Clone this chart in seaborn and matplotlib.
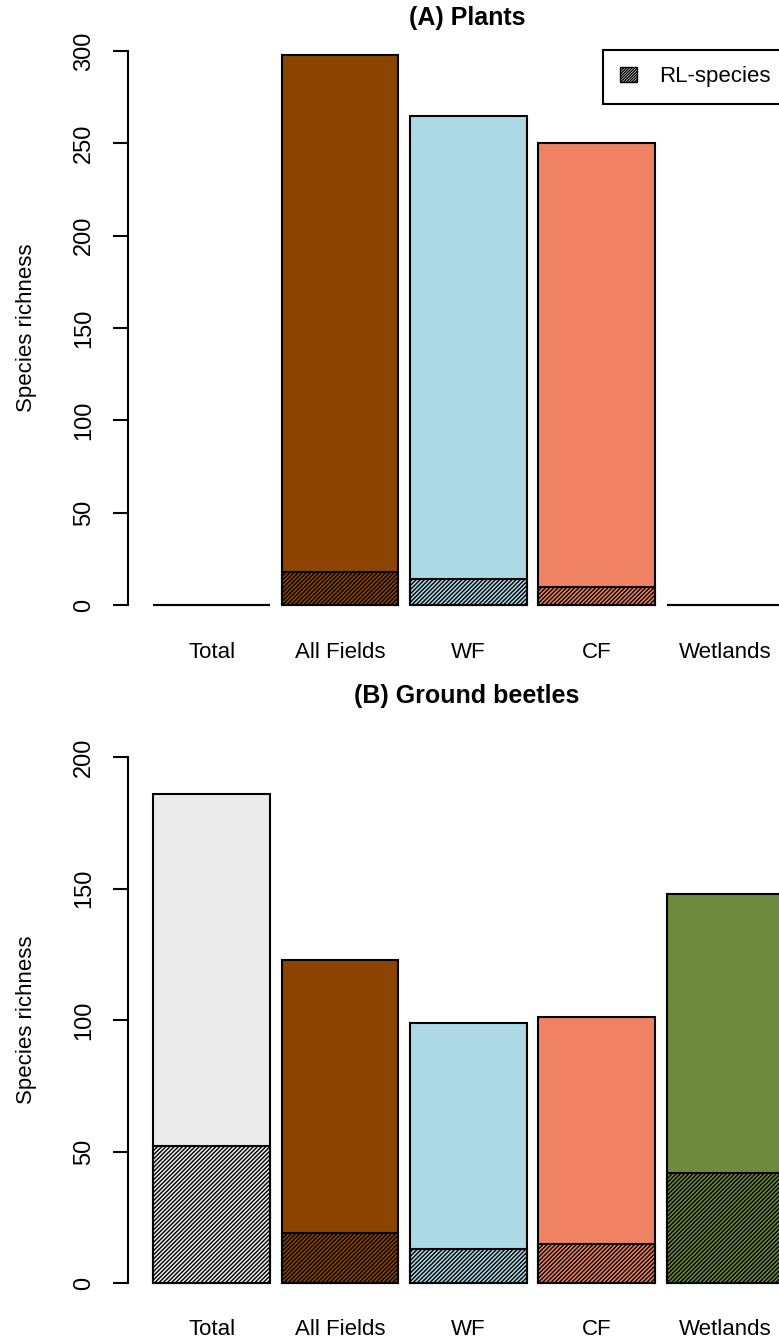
# Species richness per habitat (plants / ground beetles), RL-species hatched
import numpy as np
import pandas as pd
import matplotlib
matplotlib.use("Agg")
import matplotlib.pyplot as plt
import matplotlib.patches as mpatches
import seaborn as sns

# --------------------  DATA  --------------------
categories     = ["Total", "All Fields", "WF", "CF", "Wetlands"]
bar_colors     = ["#EBEBEB", "#8B4500", "#ADD8E6", "#EE8262", "#6E8B3D"]

plants_total   = [0, 298, 265, 250, 0]
plants_rl      = [0, 18, 14, 10, 0]

beetles_total  = [186, 123, 99, 101, 148]
beetles_rl     = [52, 19, 13, 15, 42]

# --------------------  STYLE  --------------------
sns.set_style("white")
plt.rcParams["font.family"] = ["Liberation Sans", "DejaVu Sans"]
plt.rcParams["hatch.linewidth"] = 1.0
for key in ["text.color", "axes.labelcolor", "xtick.color", "ytick.color"]:
    plt.rcParams[key] = "black"

W, H = 779, 1343
BAR_W = 1 / 1.1          # R barplot with space = 0.1
PX_PER_BAR = 128.3       # pixel distance between bar centres
X0_PX = 211.7            # pixel centre of first bar
AX_LEFT_PX = 128
AX_RIGHT_PX = 828
palette = dict(zip(categories, bar_colors))

fig = plt.figure(figsize=(W / 100, H / 100), dpi=100)


def make_axes(ymax_px, zero_px):
    # axes box with R's 4 % padding around the 0..ymax range
    pad = 0.04 * (zero_px - ymax_px)
    top_px, bottom_px = ymax_px - pad, zero_px + pad
    return fig.add_axes([AX_LEFT_PX / W, 1 - bottom_px / H,
                         (AX_RIGHT_PX - AX_LEFT_PX) / W, (bottom_px - top_px) / H])


def draw_panel(ax, totals, rl, ymax, step, title, title_y_px):
    df = pd.DataFrame({"habitat": categories, "total": totals, "rl": rl})
    sns.barplot(data=df, x="habitat", y="total", hue="habitat", palette=palette,
                width=BAR_W, saturation=1, edgecolor="black", linewidth=1.5,
                legend=False, ax=ax)
    n = len(ax.patches)
    sns.barplot(data=df, x="habitat", y="rl", hue="habitat", palette=palette,
                width=BAR_W, saturation=1, edgecolor="black", linewidth=1.5,
                legend=False, ax=ax)
    for p in ax.patches[n:]:
        p.set_hatch("////////")

    pad = 0.04 * ymax
    ax.set_ylim(-pad, ymax + pad)
    xmin = (AX_LEFT_PX - X0_PX) / PX_PER_BAR
    xmax = (AX_RIGHT_PX - X0_PX) / PX_PER_BAR
    ax.set_xlim(xmin, xmax)

    ax.set_xlabel("")
    ax.set_ylabel("")
    for s in ["top", "right", "bottom"]:
        ax.spines[s].set_visible(False)
    ax.spines["left"].set_bounds(0, ymax)
    ax.spines["left"].set_linewidth(1.5)
    ax.spines["left"].set_color("black")

    ax.set_yticks(np.arange(0, ymax + 1, step))
    ax.tick_params(axis="y", left=True, length=10.8, width=1.5, pad=13,
                   labelsize=17, labelrotation=90, color="black")
    for lbl in ax.get_yticklabels():
        lbl.set_va("center")
    ax.tick_params(axis="x", length=0, pad=11, labelsize=16)

    # axis title and panel title placed like the R layout
    pos = ax.get_position()
    fig.text(27 / W, pos.y0 + pos.height / 2, "Species richness", rotation=90,
             ha="center", va="center", fontsize=16)
    fig.text(467 / W, 1 - title_y_px / H, title, ha="center", va="center",
             fontsize=18, fontweight="bold")


# panel A: 300 at y=51 px, 0 at y=605 px
ax_a = make_axes(51, 605)
draw_panel(ax_a, plants_total, plants_rl, 300, 50, "(A) Plants", 18)

# panel B: 200 at y=757 px, 0 at y=1283 px
ax_b = make_axes(757, 1283)
draw_panel(ax_b, beetles_total, beetles_rl, 200, 50, "(B) Ground beetles", 696)

# legend box running off the right edge like the original
rl_handle = mpatches.Patch(facecolor="white", edgecolor="black", hatch="////////////",
                           linewidth=1, label="RL-species")
leg = fig.legend(handles=[rl_handle], loc="upper left",
                 bbox_to_anchor=(603 / W, 1 - 51 / H, 300 / W, 0.001),
                 bbox_transform=fig.transFigure, mode="expand",
                 fontsize=16, frameon=True, fancybox=False, framealpha=1,
                 edgecolor="black", borderpad=0.75, handlelength=0.77,
                 handleheight=0.68, handletextpad=1.0, borderaxespad=0)
leg.get_frame().set_linewidth(1.5)

plt.savefig("out.png", dpi=100)
